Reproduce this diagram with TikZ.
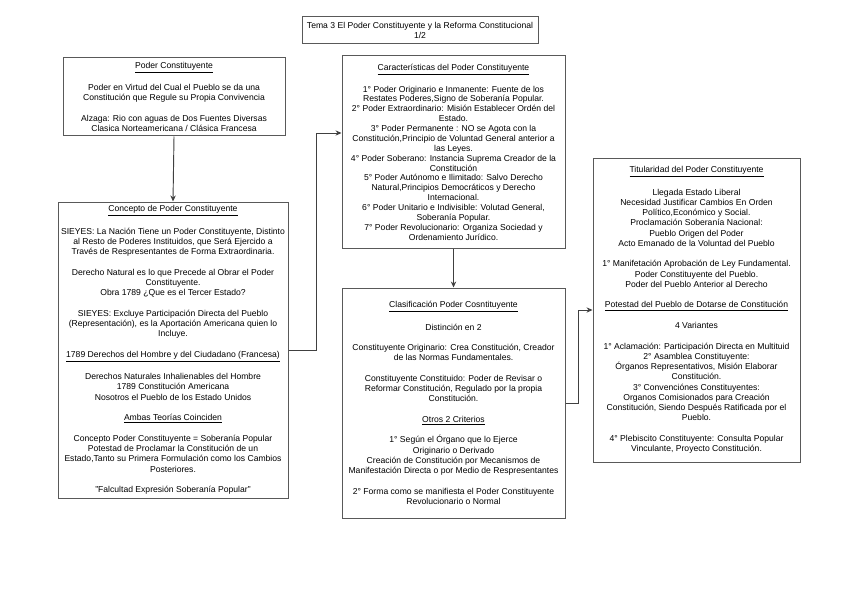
\documentclass[tikz,border=0pt]{standalone}
\usepackage{fontspec}
\setmainfont{Liberation Sans}
\usetikzlibrary{arrows.meta}
\newcommand{\bl}{\\[7.7pt]}
\newcommand{\bls}{\\[7.4pt]}
\begin{document}
\begin{tikzpicture}[x=0.75pt,y=-0.75pt,
  box/.style={draw=black!65,line width=0.75pt,align=center,inner sep=0pt,font=\fontsize{6.45}{7.7}\selectfont},
  arr/.style={draw=black!75,line width=0.7pt,-{Stealth[length=4.5pt,width=4pt]}}]
\useasboundingbox[fill=white] (0,0) rectangle (848,599);
\node[box,minimum width=177pt,minimum height=20.25pt] (title) at (420,30.5) {Tema 3 El Poder Constituyente y la Reforma Constitucional\\1/2};
\node[box,minimum width=166.5pt,minimum height=58.5pt] (poder) at (174,97) {\underline{Poder Constituyente}\bl
Poder en Virtud del Cual el Pueblo se da una\\
Constitución que Regule su Propia Convivencia\bl
Alzaga: Rio con aguas de Dos Fuentes Diversas\\
Clasica Norteamericana / Clásica Francesa};
\node[box,minimum width=172.5pt,minimum height=222pt] (concepto) at (173,350) {\underline{Concepto de Poder Constituyente}\bl
SIEYES: La Nación Tiene un Poder Constituyente, Distinto\\
al Resto de Poderes Instituidos, que Será Ejercido a\\
Través de Respresentantes de Forma Extraordinaria.\bl
Derecho Natural es lo que Precede al Obrar el Poder\\
Constituyente.\\
Obra 1789 ¿Que es el Tercer Estado?\bl
SIEYES: Excluye Participación Directa del Pueblo\\
(Representación), es la Aportación Americana quien lo\\
Incluye.\bl
\underline{1789 Derechos del Hombre y del Ciudadano (Francesa)}\bl
Derechos Naturales Inhalienables del Hombre\\
1789 Constitución Americana\\
Nosotros el Pueblo de los Estado Unidos\bl
\underline{Ambas Teorías Coinciden}\bl
Concepto Poder Constituyente = Soberanía Popular\\
Potestad de Proclamar la Constitución de un\\
Estado,Tanto su Primera Formulación como los Cambios\\
Posteriores.\bl
"Falcultad Expresión Soberanía Popular"};
\node[box,minimum width=167.25pt,minimum height=144pt,font=\fontsize{6.45}{7.4}\selectfont] (caract) at (453.5,152) {\underline{Características del Poder Constituyente}\bls
1° Poder Originario e Inmanente: Fuente de los\\
Restates Poderes,Signo de Soberanía Popular.\\
2° Poder Extraordinario: Misión Establecer Ordén del\\
Estado.\\
3° Poder Permanente : NO se Agota con la\\
Constitución,Principio de Voluntad General anterior a\\
las Leyes.\\
4° Poder Soberano: Instancia Suprema Creador de la\\
Constitución\\
5° Poder Autónomo e Ilimitado: Salvo Derecho\\
Natural,Principios Democráticos y Derecho\\
Internacional.\\
6° Poder Unitario e Indivisible: Volutad General,\\
Soberanía Popular.\\
7° Poder Revolucionario: Organiza Sociedad y\\
Ordenamiento Jurídico.};
\node[box,minimum width=167.25pt,minimum height=172.5pt] (clasif) at (453.5,403) {\underline{Clasificación Poder Cosntituyente}\bl
Distinción en 2\bl
Constituyente Originario: Crea Constitución, Creador\\
de las Normas Fundamentales.\bl
Constituyente Constituido: Poder de Revisar o\\
Reformar Constitución, Regulado por la propia\\
Constitución.\bl
\underline{Otros 2 Criterios}\bl
1° Según el Órgano que lo Ejerce\\
Originario o Derivado\\
Creación de Constitución por Mecanismos de\\
Manifestación Directa o por Medio de Respresentantes\bl
2° Forma como se manifiesta el Poder Constituyente\\
Revolucionario o Normal};
\node[box,minimum width=155.25pt,minimum height=228pt] (titular) at (696.5,310) {\underline{Titularidad del Poder Constituyente}\bl
Llegada Estado Liberal\\
Necesidad Justificar Cambios En Orden\\
Político,Económico y Social.\\
Proclamación Soberanía Nacional:\\
Pueblo Origen del Poder\\
Acto Emanado de la Voluntad del Pueblo\bl
1° Manifetación Aprobación de Ley Fundamental.\\
Poder Constituyente del Pueblo.\\
Poder del Pueblo Anterior al Derecho\bl
\underline{Potestad del Pueblo de Dotarse de Constitución}\bl
4 Variantes\bl
1° Aclamación: Participación Directa en Multituid\\
2° Asamblea Constituyente:\\
Órganos Representativos, Misión Elaborar\\
Constitución.\\
3° Convenciónes Constituyentes:\\
Organos Comisionados para Creación\\
Constitución, Siendo Después Ratificada por el\\
Pueblo.\bl
4° Plebiscito Constituyente: Consulta Popular\\
Vinculante, Proyecto Constitución.};
\coordinate (k1) at (316,133);
\coordinate (k2) at (578,310);
\draw[arr] (poder.south) -- (concepto.north);
\draw[arr] (concepto.east) -| (k1) -- (k1 -| caract.west);
\draw[arr] (caract.south) -- (clasif.north);
\draw[arr] (clasif.east) -| (k2) -- (k2 -| titular.west);
\end{tikzpicture}
\end{document}
